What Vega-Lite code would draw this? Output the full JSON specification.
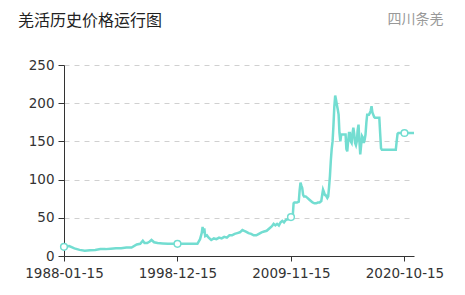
{
  "$schema": "https://vega.github.io/schema/vega-lite/v6.json",
  "width": 350,
  "height": 191,
  "autosize": {"type": "none"},
  "padding": {"left": 64, "top": 65, "right": 51, "bottom": 39},
  "background": "white",
  "title": {
    "text": "羌活历史价格运行图",
    "anchor": "start",
    "frame": "group",
    "dx": -46,
    "dy": 17,
    "font": "Noto Sans CJK SC",
    "fontSize": 16,
    "fontWeight": "normal",
    "color": "#222222",
    "offset": 0
  },
  "config": {
    "view": {"stroke": null},
    "axis": {"labelFont": "DejaVu Sans", "labelFontSize": 13.5, "labelColor": "#333333"}
  },
  "data": {
    "values": [
      {"date": "1988-01-15", "price": 12},
      {"date": "1988-07-15", "price": 13},
      {"date": "1989-01-15", "price": 10},
      {"date": "1989-07-15", "price": 8},
      {"date": "1990-01-15", "price": 7},
      {"date": "1990-07-15", "price": 7.5},
      {"date": "1991-01-15", "price": 8},
      {"date": "1991-07-15", "price": 9},
      {"date": "1992-01-15", "price": 9},
      {"date": "1992-07-15", "price": 9.5},
      {"date": "1993-01-15", "price": 10},
      {"date": "1993-07-15", "price": 10},
      {"date": "1994-01-15", "price": 11},
      {"date": "1994-07-15", "price": 11},
      {"date": "1995-01-15", "price": 15},
      {"date": "1995-05-15", "price": 16},
      {"date": "1995-08-15", "price": 20},
      {"date": "1995-10-15", "price": 17},
      {"date": "1996-01-15", "price": 17},
      {"date": "1996-04-15", "price": 19},
      {"date": "1996-06-15", "price": 21},
      {"date": "1996-09-15", "price": 18},
      {"date": "1997-01-15", "price": 17},
      {"date": "1997-07-15", "price": 16.5},
      {"date": "1998-01-15", "price": 16},
      {"date": "1998-07-15", "price": 16},
      {"date": "1998-12-15", "price": 16},
      {"date": "1999-05-15", "price": 16},
      {"date": "1999-11-15", "price": 16},
      {"date": "2000-05-15", "price": 16},
      {"date": "2000-11-15", "price": 16},
      {"date": "2001-02-15", "price": 22},
      {"date": "2001-04-15", "price": 30},
      {"date": "2001-05-15", "price": 38},
      {"date": "2001-06-15", "price": 30},
      {"date": "2001-07-15", "price": 36},
      {"date": "2001-08-15", "price": 26},
      {"date": "2001-10-15", "price": 27},
      {"date": "2001-12-15", "price": 24},
      {"date": "2002-03-15", "price": 21},
      {"date": "2002-06-15", "price": 23},
      {"date": "2002-09-15", "price": 22},
      {"date": "2002-12-15", "price": 24},
      {"date": "2003-03-15", "price": 23},
      {"date": "2003-06-15", "price": 25},
      {"date": "2003-09-15", "price": 24},
      {"date": "2003-12-15", "price": 27},
      {"date": "2004-03-15", "price": 27},
      {"date": "2004-06-15", "price": 29},
      {"date": "2004-09-15", "price": 30},
      {"date": "2004-12-15", "price": 31},
      {"date": "2005-03-15", "price": 34},
      {"date": "2005-05-15", "price": 33},
      {"date": "2005-07-15", "price": 32},
      {"date": "2005-10-15", "price": 30},
      {"date": "2006-01-15", "price": 29},
      {"date": "2006-04-15", "price": 27},
      {"date": "2006-07-15", "price": 27},
      {"date": "2006-10-15", "price": 29},
      {"date": "2007-01-15", "price": 31},
      {"date": "2007-04-15", "price": 32},
      {"date": "2007-07-15", "price": 33},
      {"date": "2007-10-15", "price": 36},
      {"date": "2008-01-15", "price": 39},
      {"date": "2008-03-15", "price": 42},
      {"date": "2008-05-15", "price": 40},
      {"date": "2008-07-15", "price": 42},
      {"date": "2008-09-15", "price": 40},
      {"date": "2008-11-15", "price": 44},
      {"date": "2009-01-15", "price": 46},
      {"date": "2009-03-15", "price": 44},
      {"date": "2009-05-15", "price": 47},
      {"date": "2009-07-15", "price": 48},
      {"date": "2009-09-15", "price": 48},
      {"date": "2009-11-15", "price": 51},
      {"date": "2010-01-15", "price": 52},
      {"date": "2010-02-15", "price": 69},
      {"date": "2010-03-15", "price": 70},
      {"date": "2010-06-15", "price": 70},
      {"date": "2010-08-15", "price": 71},
      {"date": "2010-09-15", "price": 86},
      {"date": "2010-10-15", "price": 96},
      {"date": "2010-11-15", "price": 92},
      {"date": "2010-12-15", "price": 89},
      {"date": "2011-01-15", "price": 80},
      {"date": "2011-02-15", "price": 78},
      {"date": "2011-04-15", "price": 78},
      {"date": "2011-06-15", "price": 76},
      {"date": "2011-08-15", "price": 74},
      {"date": "2011-10-15", "price": 72},
      {"date": "2011-12-15", "price": 70},
      {"date": "2012-02-15", "price": 69},
      {"date": "2012-04-15", "price": 69},
      {"date": "2012-06-15", "price": 70},
      {"date": "2012-08-15", "price": 70},
      {"date": "2012-10-15", "price": 72},
      {"date": "2012-11-15", "price": 80},
      {"date": "2012-12-15", "price": 87},
      {"date": "2013-01-15", "price": 84},
      {"date": "2013-02-15", "price": 80},
      {"date": "2013-03-15", "price": 80},
      {"date": "2013-05-15", "price": 76},
      {"date": "2013-06-15", "price": 78},
      {"date": "2013-07-15", "price": 90},
      {"date": "2013-08-15", "price": 105},
      {"date": "2013-09-15", "price": 125},
      {"date": "2013-10-15", "price": 140},
      {"date": "2013-11-15", "price": 150},
      {"date": "2013-12-15", "price": 170},
      {"date": "2014-01-15", "price": 195},
      {"date": "2014-02-15", "price": 210},
      {"date": "2014-03-15", "price": 205},
      {"date": "2014-04-15", "price": 198},
      {"date": "2014-05-15", "price": 192},
      {"date": "2014-06-15", "price": 185},
      {"date": "2014-07-15", "price": 161},
      {"date": "2014-08-15", "price": 150},
      {"date": "2014-09-15", "price": 159},
      {"date": "2014-12-15", "price": 159},
      {"date": "2015-02-15", "price": 159},
      {"date": "2015-03-15", "price": 140},
      {"date": "2015-04-15", "price": 137},
      {"date": "2015-05-15", "price": 150},
      {"date": "2015-06-15", "price": 161},
      {"date": "2015-07-15", "price": 161},
      {"date": "2015-08-15", "price": 150},
      {"date": "2015-09-15", "price": 148},
      {"date": "2015-10-15", "price": 160},
      {"date": "2015-11-15", "price": 168},
      {"date": "2015-12-15", "price": 160},
      {"date": "2016-01-15", "price": 148},
      {"date": "2016-02-15", "price": 145},
      {"date": "2016-03-15", "price": 150},
      {"date": "2016-04-15", "price": 165},
      {"date": "2016-05-15", "price": 172},
      {"date": "2016-06-15", "price": 150},
      {"date": "2016-07-15", "price": 133},
      {"date": "2016-08-15", "price": 145},
      {"date": "2016-09-15", "price": 157},
      {"date": "2016-10-15", "price": 155},
      {"date": "2016-11-15", "price": 148},
      {"date": "2016-12-15", "price": 152},
      {"date": "2017-01-15", "price": 159},
      {"date": "2017-02-15", "price": 175},
      {"date": "2017-03-15", "price": 185},
      {"date": "2017-05-15", "price": 185},
      {"date": "2017-06-15", "price": 187},
      {"date": "2017-07-15", "price": 190},
      {"date": "2017-08-15", "price": 196},
      {"date": "2017-09-15", "price": 188},
      {"date": "2017-10-15", "price": 185},
      {"date": "2017-11-15", "price": 182},
      {"date": "2017-12-15", "price": 181},
      {"date": "2018-02-15", "price": 181},
      {"date": "2018-05-15", "price": 181},
      {"date": "2018-06-15", "price": 160},
      {"date": "2018-07-15", "price": 141},
      {"date": "2018-08-15", "price": 139},
      {"date": "2018-11-15", "price": 139},
      {"date": "2019-04-15", "price": 139},
      {"date": "2019-09-15", "price": 139},
      {"date": "2019-12-15", "price": 139},
      {"date": "2020-01-15", "price": 150},
      {"date": "2020-02-15", "price": 160},
      {"date": "2020-03-15", "price": 161},
      {"date": "2020-07-15", "price": 161},
      {"date": "2020-10-15", "price": 161},
      {"date": "2021-03-15", "price": 161},
      {"date": "2021-09-15", "price": 161}
    ],
    "format": {"parse": {"date": "date"}}
  },
  "encoding": {
    "x": {
      "field": "date",
      "type": "temporal",
      "scale": {
        "type": "utc",
        "nice": false,
        "domain": [
          {"year": 1988, "month": 1, "date": 15, "utc": true},
          {"year": 2021, "month": 9, "date": 15, "utc": true}
        ]
      },
      "axis": {
        "values": [
          {"year": 1988, "month": 1, "date": 15, "utc": true},
          {"year": 1998, "month": 12, "date": 15, "utc": true},
          {"year": 2009, "month": 11, "date": 15, "utc": true},
          {"year": 2020, "month": 10, "date": 15, "utc": true}
        ],
        "labelExpr": "utcFormat(datum.value, '%Y-%m-%d')",
        "grid": false,
        "domainColor": "#333333",
        "tickColor": "#333333",
        "tickSize": 5,
        "labelPadding": 5,
        "labelFlush": false,
        "labelOverlap": false,
        "title": "四川条羌",
        "titleFont": "Noto Sans CJK SC",
        "titleFontSize": 14,
        "titleFontWeight": "normal",
        "titleColor": "#999999",
        "titleAnchor": "end",
        "titleAlign": "right",
        "titleBaseline": "middle",
        "titleX": 379,
        "titleY": -237
      }
    },
    "y": {
      "field": "price",
      "type": "quantitative",
      "scale": {"domain": [0, 250], "nice": false},
      "axis": {
        "values": [0, 50, 100, 150, 200, 250],
        "title": null,
        "grid": true,
        "gridDash": [5, 5],
        "gridColor": "#d0d0d0",
        "domainColor": "#333333",
        "tickColor": "#333333",
        "tickSize": 6,
        "labelPadding": 4
      }
    }
  },
  "layer": [
    {
      "mark": {"type": "line", "color": "#73ddd1", "strokeWidth": 2.5}
    },
    {
      "transform": [
        {"filter": "indexof(['1988-01-15','1998-12-15','2009-11-15','2020-10-15'], utcFormat(datum.date, '%Y-%m-%d')) >= 0"}
      ],
      "mark": {"type": "point", "filled": true, "fill": "white", "stroke": "#73ddd1", "strokeWidth": 1.5, "size": 45, "opacity": 1}
    }
  ]
}
